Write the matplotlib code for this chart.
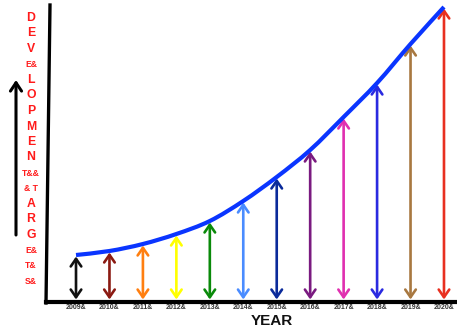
import matplotlib
matplotlib.use("Agg")
import matplotlib.pyplot as plt
from matplotlib.patches import FancyArrowPatch, PathPatch
from matplotlib.path import Path
from matplotlib.lines import Line2D

# Development target per year
years = [2009, 2010, 2011, 2012, 2013, 2014, 2015, 2016, 2017, 2018, 2019, 2020]
target = [47, 51, 58, 68, 81, 101, 125, 152, 185, 219, 258, 295]
year_labels = [f"{y}&" for y in years]
arrow_colors = ["#111111", "#8b1a12", "#ff7f10", "#ffff00", "#0a8a0a", "#4a8cff",
                "#0a2a9a", "#7a1a80", "#e030b0", "#2a2ae0", "#a87840", "#e83020"]
side_letters = ["D", "E", "V", "E&", "L", "O", "P", "M", "E", "N",
                "T&&", "& T", "A", "R", "G", "E&", "T&", "S&"]

W, H = 457, 331
fig = plt.figure(figsize=(W / 100, H / 100), dpi=100)
fig.patch.set_facecolor("white")

ax = fig.add_axes([46 / W, 29 / H, 411 / W, 302 / H])
ax.set_xlim(2008.103, 2020.389)
ax.set_ylim(0, 302)
for side in ["left", "right", "top"]:
    ax.spines[side].set_visible(False)
ax.spines["bottom"].set_linewidth(3.0)
ax.spines["bottom"].set_color("black")
ax.set_yticks([])
ax.set_xticks(years)
ax.set_xticklabels(year_labels, fontsize=5.0, fontweight="bold", color="#333333",
                   family="Liberation Sans")
ax.tick_params(axis="x", length=0, pad=1.2)

# double-headed arrows from baseline up to the target curve
for x, y, c in zip(years, target, arrow_colors):
    arr = FancyArrowPatch((x, 2.5), (x, y - 1.5),
                          arrowstyle="<->,head_width=0.38,head_length=0.55",
                          mutation_scale=10, color=c, lw=1.9, shrinkA=0, shrinkB=0,
                          clip_on=False)
    ax.add_patch(arr)

# smooth curve through the yearly targets (Catmull-Rom as cubic Bezier segments)
pts = list(zip(years, target))
verts = [pts[0]]
codes = [Path.MOVETO]
n = len(pts)
for i in range(n - 1):
    p0 = pts[max(i - 1, 0)]
    p1 = pts[i]
    p2 = pts[i + 1]
    p3 = pts[min(i + 2, n - 1)]
    c1 = (p1[0] + (p2[0] - p0[0]) / 6, p1[1] + (p2[1] - p0[1]) / 6)
    c2 = (p2[0] - (p3[0] - p1[0]) / 6, p2[1] - (p3[1] - p1[1]) / 6)
    verts += [c1, c2, p2]
    codes += [Path.CURVE4] * 3
curve = PathPatch(Path(verts, codes), facecolor="none", edgecolor="#0a35ff", lw=3.0,
                  capstyle="butt", joinstyle="round", clip_on=False, zorder=5)
ax.add_patch(curve)

# slanted vertical axis line
fig.add_artist(Line2D([50 / W, 46 / W], [1 - 5 / H, 1 - 303 / H], color="black",
                      lw=2.4, transform=fig.transFigure))

# side arrow
fig.add_artist(FancyArrowPatch((16 / W, 1 - 235 / H), (16 / W, 1 - 80 / H),
                               transform=fig.transFigure,
                               arrowstyle="->,head_width=0.4,head_length=0.6",
                               mutation_scale=10, color="black", lw=2.2,
                               shrinkA=0, shrinkB=0))

# stacked side label
y0, dy = 18, 15.5
for i, s in enumerate(side_letters):
    small = "&" in s
    fig.text(31 / W, 1 - (y0 + i * dy) / H, s, ha="center", va="center",
             color="#ff1a1a", fontweight="bold", family="Liberation Sans",
             fontsize=6.2 if small else 8.8)

fig.text(272 / W, 1 - 321 / H, "YEAR", ha="center", va="center", fontsize=11,
         fontweight="bold", family="Liberation Sans", color="#111111")

fig.savefig("out.png", dpi=100)
